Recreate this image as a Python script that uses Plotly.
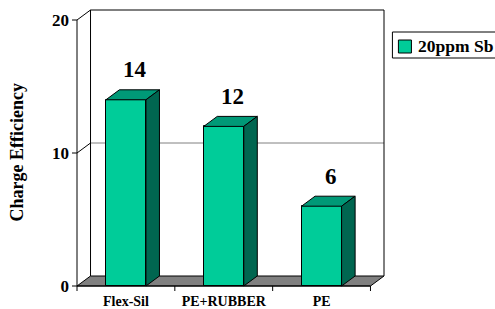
import plotly.graph_objects as go

# ---- data ----
categories = ["Flex-Sil", "PE+RUBBER", "PE"]
values = [14, 12, 6]
series_name = "20ppm Sb"
y_ticks = [0, 10, 20]
y_title = "Charge Efficiency"

# ---- style / geometry ----
W, H = 495, 309
FONT = "Liberation Serif, Times New Roman, serif"
FRONT = "#00CC99"
TOP = "#009977"
SIDE = "#006650"
FLOOR = "#808080"
GRID = "#808080"

CAT_PX = 97.7      # pixels per category
UNIT_PX = 13.3     # pixels per value unit
X0_PX = 77         # pixel of the front-left axis
Y0_PX = 286        # pixel of value 0 (front)
DEPTH_X_PX, DEPTH_Y_PX = 13.5, 10
ddx = DEPTH_X_PX / CAT_PX
ddy = DEPTH_Y_PX / UNIT_PX
bar_w = 40 / CAT_PX
PADL, PADR, PADT, PADB = 7, 2, 2, 7
ymax = max(y_ticks)
n = len(categories)
xl, xr_ = -0.5, n - 0.5

x_range = [xl - PADL / CAT_PX, xr_ + ddx + PADR / CAT_PX]
y_range = [-PADB / UNIT_PX, ymax + ddy + PADT / UNIT_PX]
m_l = X0_PX - PADL
plot_w = (x_range[1] - x_range[0]) * CAT_PX
m_r = W - m_l - plot_w
m_b = H - Y0_PX - PADB
plot_h = (y_range[1] - y_range[0]) * UNIT_PX
m_t = H - m_b - plot_h
plot_bottom = H - m_b


def px_x(px):
    return (px - m_l) / plot_w


def px_y(py):
    return (plot_bottom - py) / plot_h


fig = go.Figure()

# front faces
fig.add_trace(go.Bar(
    x=list(range(n)), y=values, width=bar_w, name=series_name,
    marker=dict(color=FRONT, line=dict(color="black", width=1)),
    hoverinfo="skip", showlegend=False,
))

# top and side faces
for i, v in enumerate(values):
    x0, x1 = i - bar_w / 2, i + bar_w / 2
    fig.add_trace(go.Scatter(
        x=[x0, x1, x1 + ddx, x0 + ddx, x0], y=[v, v, v + ddy, v + ddy, v],
        mode="lines", fill="toself", fillcolor=TOP,
        line=dict(color="black", width=1), hoverinfo="skip", showlegend=False))
    fig.add_trace(go.Scatter(
        x=[x1, x1 + ddx, x1 + ddx, x1, x1], y=[0, ddy, v + ddy, v, 0],
        mode="lines", fill="toself", fillcolor=SIDE,
        line=dict(color="black", width=1), hoverinfo="skip", showlegend=False))

# walls / axis lines
wx, wy = [], []
wx += [xl, xl, None]; wy += [0, ymax, None]
wx += [xl, xl + ddx, xr_ + ddx, xr_ + ddx, None]
wy += [ymax, ymax + ddy, ymax + ddy, ddy, None]
wx += [xl + ddx, xl + ddx, None]; wy += [ddy, ymax + ddy, None]
wx += [xl, xr_, None]; wy += [0, 0, None]
for t in y_ticks:
    wx += [xl - 5 / CAT_PX, xl, None]; wy += [t, t, None]
for k in range(n + 1):
    wx += [xl + k, xl + k, None]; wy += [0, -5 / UNIT_PX, None]
fig.add_trace(go.Scatter(x=wx, y=wy, mode="lines",
                         line=dict(color="black", width=1),
                         hoverinfo="skip", showlegend=False))

shapes = []
shapes.append(dict(
    type="path", xref="x", yref="y", layer="below",
    path=f"M {xl},0 L {xr_},0 L {xr_ + ddx},{ddy} L {xl + ddx},{ddy} Z",
    fillcolor=FLOOR, line=dict(color="black", width=1)))
for t in y_ticks:
    if t in (0, ymax):
        continue
    shapes.append(dict(type="line", xref="x", yref="y", layer="below",
                       x0=xl + ddx, x1=xr_ + ddx, y0=t + ddy, y1=t + ddy,
                       line=dict(color=GRID, width=1)))
    shapes.append(dict(type="line", xref="x", yref="y", layer="below",
                       x0=xl, x1=xl + ddx, y0=t, y1=t + ddy,
                       line=dict(color="black", width=1)))

# legend (custom)
shapes.append(dict(type="rect", xref="paper", yref="paper",
                   x0=px_x(392), x1=px_x(505), y0=px_y(58), y1=px_y(32),
                   line=dict(color="black", width=1), fillcolor="white"))
shapes.append(dict(type="rect", xref="paper", yref="paper",
                   x0=px_x(398), x1=px_x(411), y0=px_y(53), y1=px_y(40),
                   line=dict(color="black", width=1), fillcolor=FRONT))

annotations = []
for i, v in enumerate(values):
    annotations.append(dict(
        x=i, y=v, xref="x", yref="y", text=str(v), showarrow=False,
        xshift=9, yshift=30, yanchor="middle",
        font=dict(family=FONT, size=23, color="black", weight="bold")))
annotations.append(dict(
    x=px_x(416), y=px_y(46), xref="paper", yref="paper", text=series_name,
    showarrow=False, xanchor="left", yanchor="middle",
    font=dict(family=FONT, size=17.5, color="black", weight="bold")))
annotations.append(dict(
    x=px_x(17), y=px_y(152.5), xref="paper", yref="paper", text=y_title,
    showarrow=False, textangle=-90, xanchor="center", yanchor="middle",
    font=dict(family=FONT, size=18, color="black", weight="bold")))

fig.update_layout(
    width=W, height=H, autosize=False,
    margin=dict(l=m_l, r=m_r, t=m_t, b=m_b, pad=0, autoexpand=False),
    paper_bgcolor="white", plot_bgcolor="white",
    showlegend=False, bargap=0,
    shapes=shapes, annotations=annotations,
    xaxis=dict(range=x_range, showgrid=False, zeroline=False, showline=False,
               automargin=False,
               tickmode="array", tickvals=list(range(n)), ticktext=categories,
               ticks="", ticklabelstandoff=-2,
               tickfont=dict(family=FONT, size=14, color="black", weight="bold")),
    yaxis=dict(range=y_range, showgrid=False, zeroline=False, showline=False,
               automargin=False,
               tickmode="array", tickvals=y_ticks, ticks="",
               tickfont=dict(family=FONT, size=17, color="black", weight="bold")),
)

fig.write_html(
    "out.html",
    config={"responsive": False, "displayModeBar": False},
    post_script="document.body.style.margin='0';"
                "document.documentElement.style.overflow='hidden';",
)
